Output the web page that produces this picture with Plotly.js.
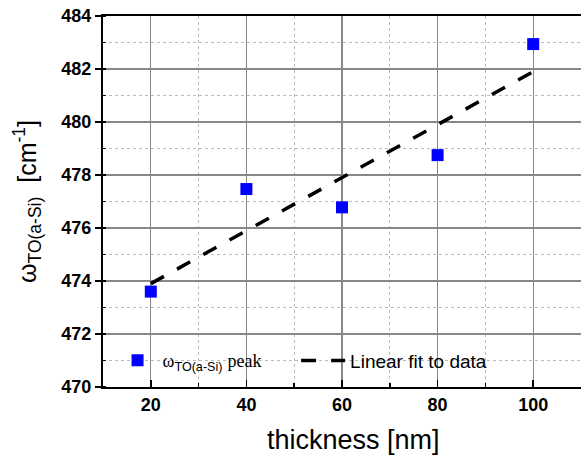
<!DOCTYPE html>
<html><head><meta charset="utf-8">
<script src="https://cdn.plot.ly/plotly-3.0.1.min.js"></script>
<style>html,body{margin:0;padding:0;background:#fff}</style>
</head><body>
<div id="chart" style="width:581px;height:460px"></div>
<script>
const thickness = [20, 40, 60, 80, 100];
const omegaTO = [473.6, 477.47, 476.78, 478.75, 482.94];
const fitThickness = [20, 100];
const fitOmega = [473.9, 481.9];
const xTickVals = [20, 40, 60, 80, 100];
const yTickVals = [470, 472, 474, 476, 478, 480, 482, 484];

const sans = "Liberation Sans, Arial, sans-serif";

const traces = [
  {
    x: thickness, y: omegaTO, type: 'scatter', mode: 'markers',
    name: '<span style="font-family:Liberation Serif;font-size:18px">ω</span><sub>TO(a-Si)</sub> <span style="font-family:Liberation Serif;font-size:18px">peak</span>',
    marker: {symbol: 'square', size: 12, color: '#0000ff', line: {width: 0}},
    legend: 'legend'
  },
  {
    x: fitThickness, y: fitOmega, type: 'scatter', mode: 'lines',
    name: 'Linear fit to data',
    line: {color: '#000', width: 3.5, dash: '15px,15px'},
    legend: 'legend2'
  }
];

const layout = {
  width: 581, height: 460,
  margin: {l: 103, r: 0, t: 16, b: 73},
  paper_bgcolor: '#fff', plot_bgcolor: '#fff',
  font: {family: sans, color: '#000'},
  showlegend: true,
  xaxis: {
    range: [10, 110], tickvals: xTickVals, ticktext: xTickVals.map(String),
    ticks: 'inside', ticklen: 7, tickwidth: 1.5, tickcolor: '#000',
    showline: true, linewidth: 2, linecolor: '#000', mirror: true,
    showgrid: true, gridcolor: '#888', gridwidth: 1.2, zeroline: false,
    tickfont: {family: sans, size: 18, weight: 'bold'},
    minor: {dtick: 10, tick0: 0, ticks: 'inside', ticklen: 4, tickcolor: '#000', showgrid: true, gridcolor: '#bbb', griddash: 'dot', gridwidth: 1},
    automargin: false
  },
  yaxis: {
    range: [470, 484], tickvals: yTickVals, ticktext: yTickVals.map(String),
    ticks: 'outside', ticklen: 6, tickwidth: 1.5, tickcolor: '#000',
    showline: true, linewidth: 2, linecolor: '#000', mirror: false,
    showgrid: true, gridcolor: '#888', gridwidth: 1.2, zeroline: false,
    tickfont: {family: sans, size: 18, weight: 'bold'},
    minor: {dtick: 1, tick0: 0, ticks: 'inside', ticklen: 3, tickcolor: '#000', showgrid: true, gridcolor: '#bbb', griddash: 'dot', gridwidth: 1},
    title: {text: 'ω<sub>TO(a-Si)</sub>  [cm<sup>-1</sup>]', font: {family: sans, size: 25}, standoff: 18},
    automargin: false
  },
  annotations: [{
    text: 'thickness [nm]', xref: 'paper', yref: 'paper',
    x: 0.525, y: -0.143, xanchor: 'center', yanchor: 'middle',
    showarrow: false, font: {family: sans, size: 27}
  }],
  legend: {
    orientation: 'h', x: 0.020, xanchor: 'left', y: 0.071, yanchor: 'middle',
    bgcolor: 'rgba(0,0,0,0)', borderwidth: 0, itemwidth: 40,
    font: {family: sans, size: 18}
  },
  legend2: {
    orientation: 'h', x: 0.404, xanchor: 'left', y: 0.071, yanchor: 'middle',
    bgcolor: 'rgba(0,0,0,0)', borderwidth: 0, itemwidth: 44,
    font: {family: sans, size: 19}
  },
  shapes: [{
    type: 'rect', xref: 'paper', yref: 'paper', layer: 'between',
    x0: 0, x1: 0.824, y0: 0.032, y1: 0.108,
    fillcolor: '#fff', line: {width: 0}
  }]
};

Plotly.newPlot('chart', traces, layout, {displayModeBar: false, staticPlot: true});
</script>
</body></html>
